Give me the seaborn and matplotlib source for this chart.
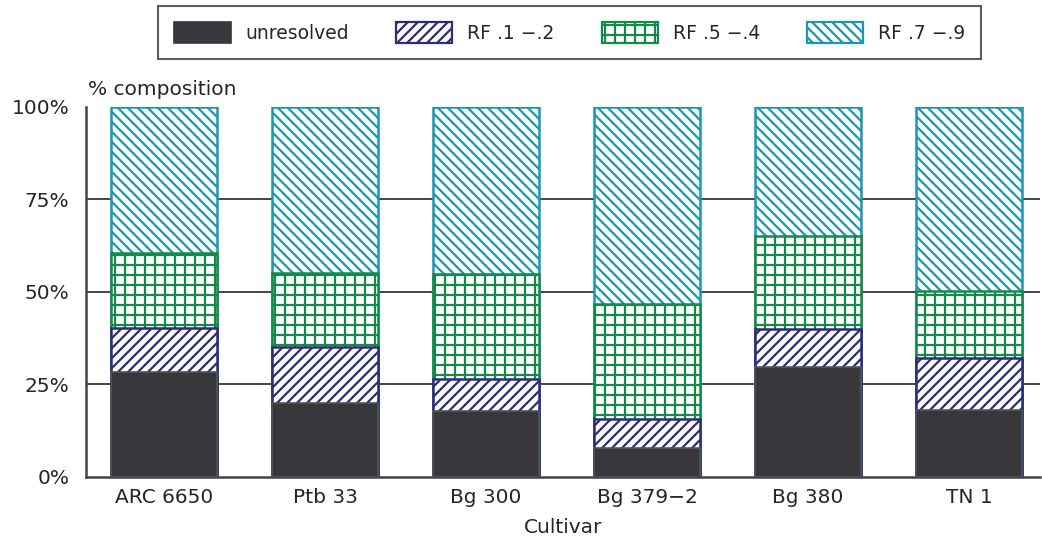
import matplotlib
matplotlib.use("Agg")
import matplotlib.pyplot as plt
import seaborn as sns
import numpy as np
import pandas as pd
from matplotlib.patches import Patch

cultivars = ["ARC 6650", "Ptb 33", "Bg 300", "Bg 379\u22122", "Bg 380", "TN 1"]
unresolved = [28.4, 20.0, 17.7, 7.8, 29.8, 18.1]
rf_12 = [11.9, 15.1, 8.8, 7.8, 10.2, 14.0]
rf_54 = [20.2, 20.0, 28.4, 31.2, 25.1, 18.2]
rf_79 = [39.5, 44.9, 45.1, 53.2, 34.9, 49.7]

series_names = ["unresolved", "RF .1 \u2212.2", "RF .5 \u2212.4", "RF .7 \u2212.9"]
colors = ["#38373c", "#2e2b7c", "#14894a", "#1b97ae"]
hatches = [None, "////", "++", "\\\\\\\\"]

DPI = 120
S = 100 / DPI  # scale so sizes read as at 100 dpi

sns.set_theme(style="white")
plt.rcParams["font.family"] = ["DejaVu Sans"]
plt.rcParams["hatch.linewidth"] = 1.6 * S

fig = plt.figure(figsize=(1042 / DPI, 540 / DPI), dpi=DPI)
ax = fig.add_axes([0.0825, 0.1167, 0.9155, 0.6852])

layers = [unresolved, rf_12, rf_54, rf_79]
cum = np.cumsum(np.array(layers), axis=0)

for y in [25, 50, 75]:
    ax.axhline(y, color="#444444", lw=1.4 * S, zorder=0)

for i in range(3, -1, -1):
    df = pd.DataFrame({"cultivar": cultivars, "value": cum[i]})
    if i == 0:
        sns.barplot(data=df, x="cultivar", y="value", color=colors[0], saturation=1,
                    width=0.66, ax=ax, edgecolor="#555555", linewidth=1.2 * S,
                    zorder=2 + (3 - i))
    else:
        sns.barplot(data=df, x="cultivar", y="value", color="white", saturation=1,
                    width=0.66, ax=ax, edgecolor=colors[i], linewidth=1.8 * S,
                    hatch=hatches[i], zorder=2 + (3 - i))

ax.set_xlim(-0.485, 5.44)
ax.set_ylim(0, 100)
ax.set_yticks([0, 25, 50, 75, 100])
ax.set_yticklabels(["0%", "25%", "50%", "75%", "100%"], fontsize=14.5 * S)
ax.tick_params(axis="x", labelsize=14.5 * S, length=0, pad=8 * S)
ax.tick_params(axis="y", length=0, pad=12 * S)
ax.set_xlabel("Cultivar", fontsize=14.5 * S, labelpad=8 * S)
ax.set_ylabel("")
for s in ["top", "right"]:
    ax.spines[s].set_visible(False)
for s in ["left", "bottom"]:
    ax.spines[s].set_color("#444444")
    ax.spines[s].set_linewidth(1.8 * S)

fig.text(0.084, 0.835, "% composition", fontsize=14.5 * S, ha="left", va="center")

handles = []
for i in range(4):
    if i == 0:
        handles.append(Patch(facecolor=colors[0], edgecolor=colors[0], label=series_names[0]))
    else:
        handles.append(Patch(facecolor="white", edgecolor=colors[i], hatch=hatches[i],
                             linewidth=1.6 * S, label=series_names[i]))
leg = fig.legend(handles=handles, loc="center", bbox_to_anchor=(0.547, 0.94), ncol=4,
                 fontsize=13.5 * S, frameon=True, fancybox=False, edgecolor="#333333",
                 handlelength=3.0, handleheight=1.3, columnspacing=2.5,
                 handletextpad=0.8, borderpad=0.85, borderaxespad=0)
leg.get_frame().set_linewidth(1.5 * S)

fig.savefig("out.png", dpi=DPI)
